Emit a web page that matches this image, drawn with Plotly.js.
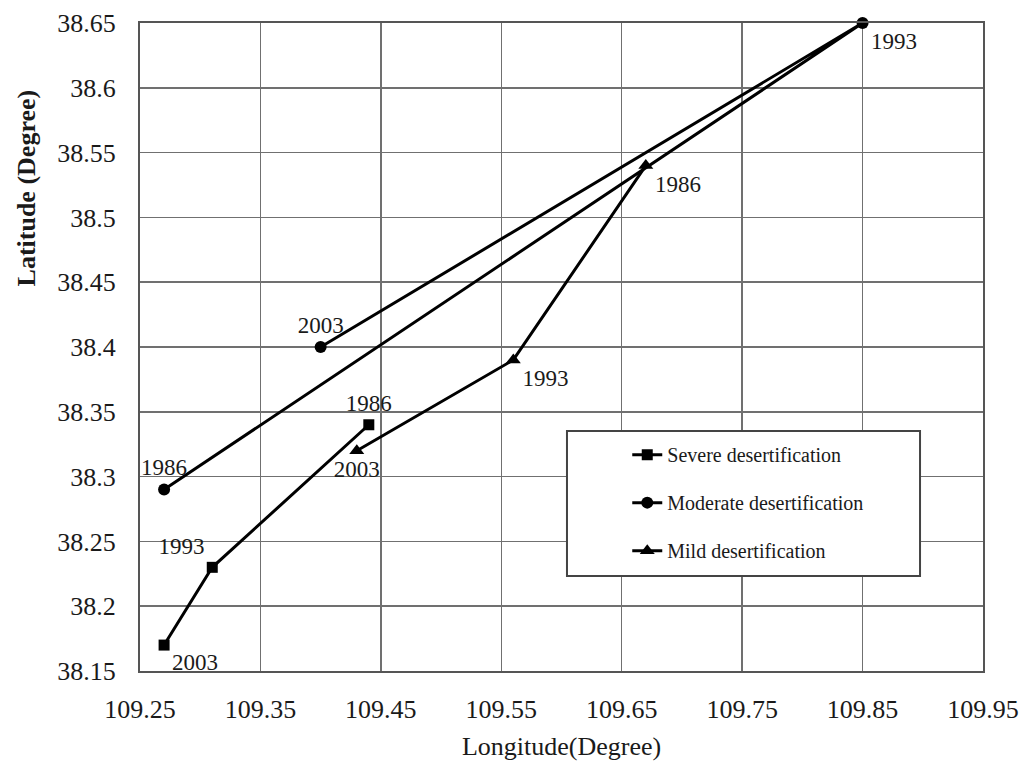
<!DOCTYPE html>
<html>
<head>
<meta charset="utf-8">
<script src="https://cdn.plot.ly/plotly-3.0.1.min.js"></script>
<style>html,body{margin:0;padding:0;background:#fff;}#chart{width:1021px;height:765px;}</style>
</head>
<body>
<div id="chart"></div>
<script>
// ---- data ----
var years = ["1986", "1993", "2003"];
var severeLon   = [109.44, 109.31, 109.27];
var severeLat   = [38.34, 38.23, 38.17];
var moderateLon = [109.27, 109.85, 109.40];
var moderateLat = [38.29, 38.65, 38.40];
var mildLon     = [109.67, 109.56, 109.43];
var mildLat     = [38.54, 38.39, 38.32];
var seriesNames = ["Severe desertification", "Moderate desertification", "Mild desertification"];
var xTitle = "Longitude(Degree)";
var yTitle = "Latitude (Degree)";

// ---- styling ----
var serif = "Liberation Serif";
var txtColor = "#1a1a1a";
function mk(name, lon, lat, symbol, size, tpos, group) {
  return {
    type: "scatter", mode: "lines+markers+text", name: name,
    x: lon, y: lat, text: years, textposition: tpos,
    textfont: {family: serif, size: 23, color: txtColor},
    line: {color: "#000", width: 3},
    marker: {symbol: symbol, size: size, color: "#000"},
    legendgroup: group, cliponaxis: false, hoverinfo: "x+y+text"
  };
}
var traces = [
  mk(seriesNames[0], severeLon, severeLat, "square", 11, ["top center", "top left", "bottom right"], "a"),
  mk(seriesNames[1], moderateLon, moderateLat, "circle", 12, ["top center", "bottom right", "top center"], "b"),
  mk(seriesNames[2], mildLon, mildLat, "triangle-up", 13, ["bottom right", "bottom right", "bottom center"], "c")
];

var layout = {
  width: 1021, height: 765,
  margin: {l: 140, r: 38, t: 23, b: 94},
  paper_bgcolor: "#fff", plot_bgcolor: "#fff",
  font: {family: serif, color: txtColor},
  showlegend: true,
  legend: {
    x: 0.578, y: 0.364, xanchor: "left", yanchor: "top",
    bgcolor: "rgba(0,0,0,0)", borderwidth: 0,
    font: {family: serif, size: 20, color: txtColor},
    traceorder: "grouped", tracegroupgap: 19
  },
  xaxis: {
    range: [109.25, 109.95], tick0: 109.25, dtick: 0.1,
    showgrid: true, gridcolor: "#707070", gridwidth: 1.5,
    showline: true, mirror: true, linecolor: "#555", linewidth: 2,
    zeroline: false, ticks: "", ticklabelstandoff: 14,
    tickfont: {family: serif, size: 26, color: txtColor},
    title: {text: xTitle, font: {family: serif, size: 26, color: txtColor}, standoff: 14}
  },
  yaxis: {
    range: [38.15, 38.65], tick0: 38.15, dtick: 0.05,
    showgrid: true, gridcolor: "#707070", gridwidth: 1.5,
    showline: true, mirror: true, linecolor: "#555", linewidth: 2,
    zeroline: false, ticks: "", ticklabelstandoff: 17,
    tickfont: {family: serif, size: 26, color: txtColor}
  },
  shapes: [{
    type: "rect", xref: "paper", yref: "paper",
    x0: 0.5065, x1: 0.9253, y0: 0.1466, y1: 0.3704,
    line: {color: "#444", width: 2}, fillcolor: "#fff", layer: "above"
  }],
  annotations: [{
    xref: "paper", yref: "paper", x: -0.135, y: 0.745,
    xanchor: "center", yanchor: "middle", textangle: -90, showarrow: false,
    text: "<b>" + yTitle + "</b>",
    font: {family: serif, size: 26, color: txtColor}
  }]
};

Plotly.newPlot("chart", traces, layout, {displayModeBar: false, staticPlot: true});
</script>
</body>
</html>
